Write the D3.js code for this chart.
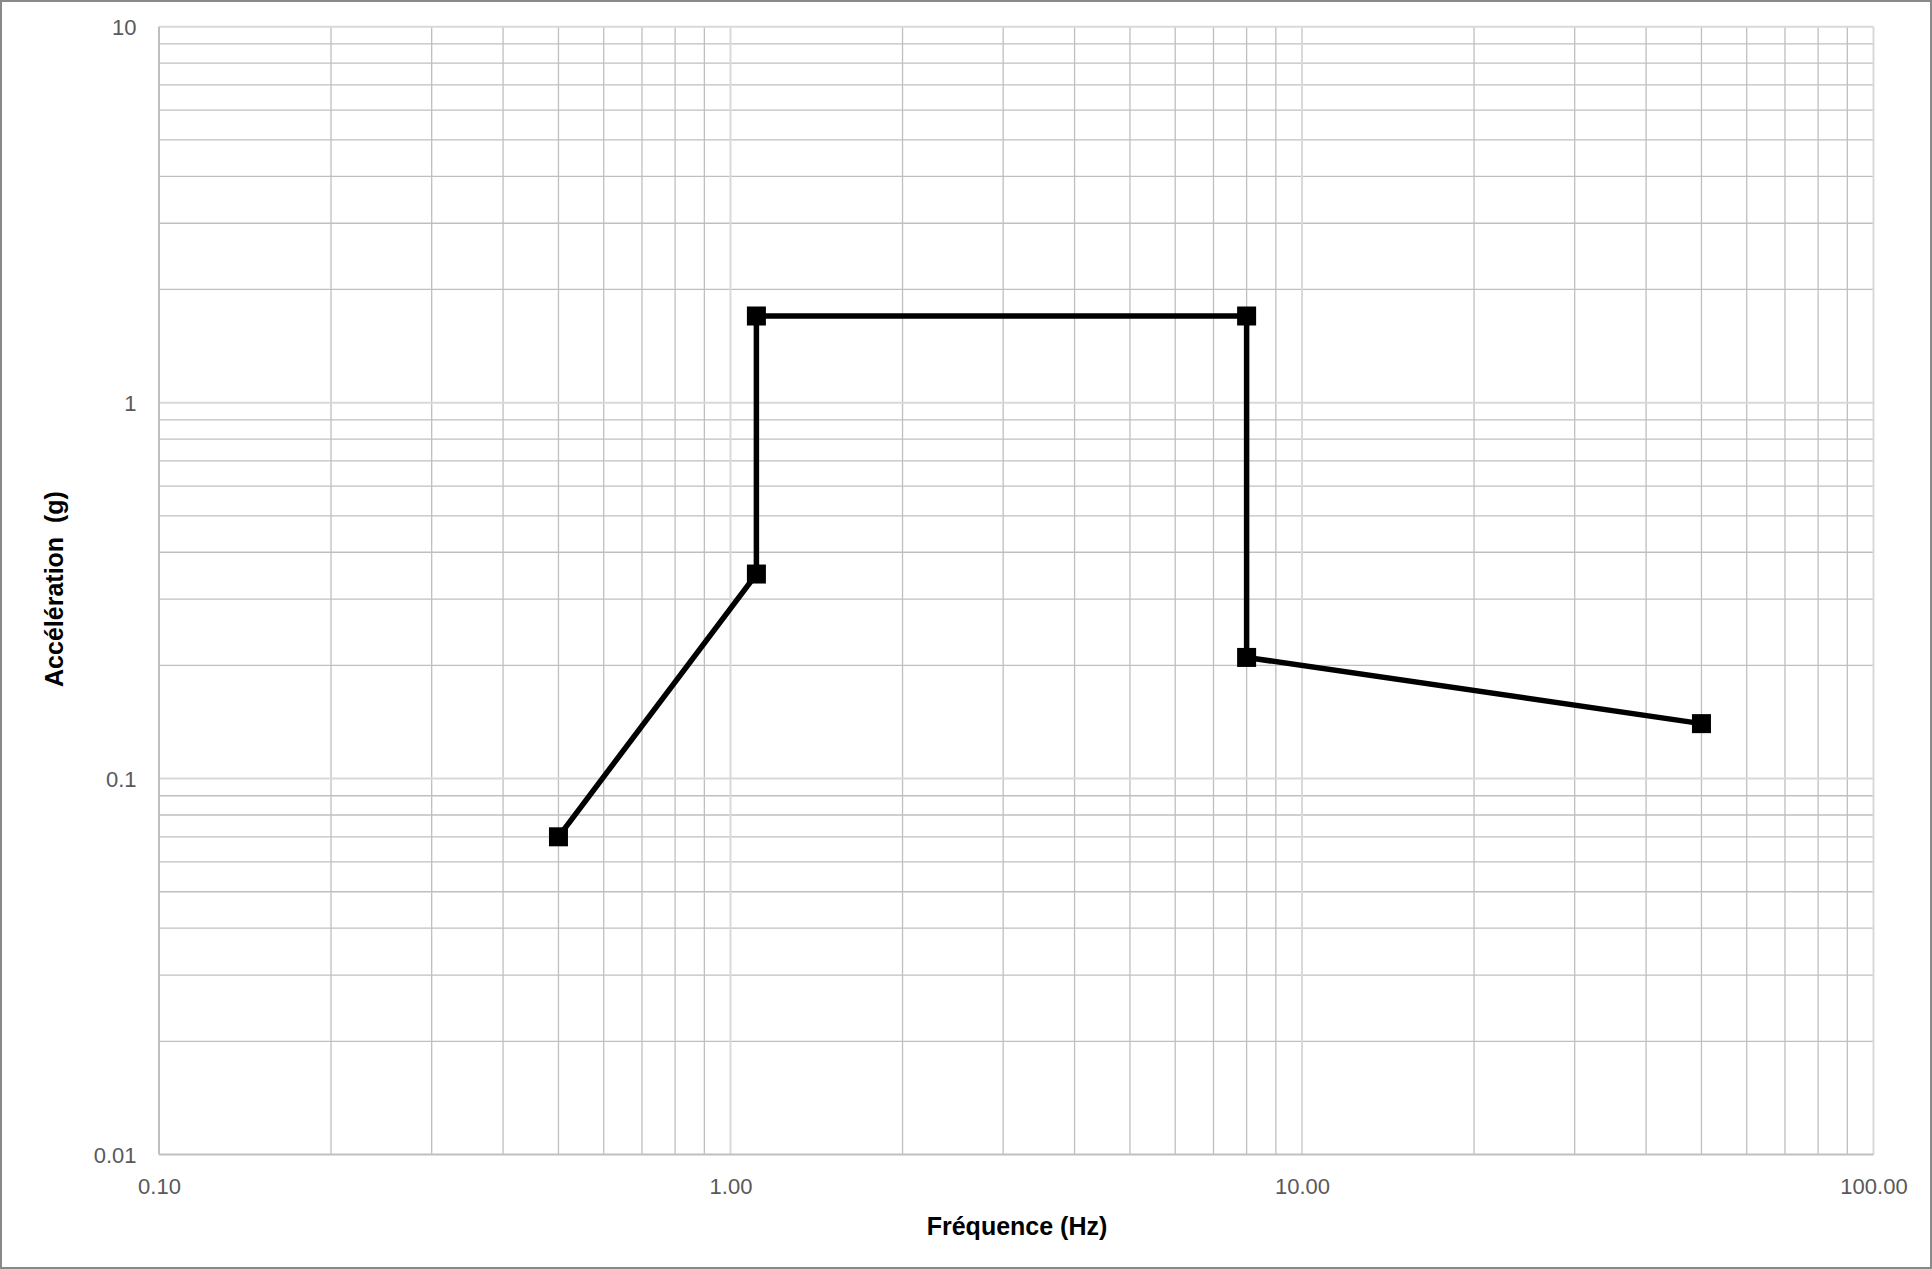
<!DOCTYPE html>
<html>
<head>
<meta charset="utf-8">
<script src="https://cdn.jsdelivr.net/npm/d3@7"></script>
<style>
  body { margin: 0; background: #fff; }
  svg { display: block; }
</style>
</head>
<body>
<div id="chart"></div>
<script>
// values
const freqs = [0.5, 1.11, 1.11, 8, 8, 50]
const accels = [0.07, 0.35, 1.7, 1.7, 0.21, 0.14]
const xTickValues = [0.1, 1, 10, 100]
const yTickValues = [0.01, 0.1, 1, 10]
const xTitle = "Fréquence (Hz)"
const yTitle = "Accélération \u00a0(g)"

const W = 1932, H = 1269
const margin = { top: 26.7, right: 58.5, bottom: 114.5, left: 159 }

const svg = d3.select("#chart").append("svg")
    .attr("width", W)
    .attr("height", H)

// outer chart border
svg.append("rect")
    .attr("x", 1).attr("y", 1)
    .attr("width", W - 2).attr("height", H - 2)
    .attr("fill", "#fff")
    .attr("stroke", "#898989")
    .attr("stroke-width", 2)

const x = d3.scaleLog()
    .domain([0.1, 100])
    .range([margin.left, W - margin.right])

const y = d3.scaleLog()
    .domain([0.01, 10])
    .range([H - margin.bottom, margin.top])

const g = svg.append("g")

// minor grid (2..9 in every decade)
const xMinor = x.ticks().filter(v => !xTickValues.some(t => Math.abs(t - v) < 1e-9))
const yMinor = y.ticks().filter(v => !yTickValues.some(t => Math.abs(t - v) < 1e-9))

g.selectAll(".xminor").data(xMinor).enter().append("line")
    .attr("x1", d => x(d)).attr("x2", d => x(d))
    .attr("y1", y.range()[0]).attr("y2", y.range()[1])
    .attr("stroke", "#bfbfbf").attr("stroke-width", 1.3)

g.selectAll(".yminor").data(yMinor).enter().append("line")
    .attr("y1", d => y(d)).attr("y2", d => y(d))
    .attr("x1", x.range()[0]).attr("x2", x.range()[1])
    .attr("stroke", "#bfbfbf").attr("stroke-width", 1.3)

// major grid (decades), lighter and a bit thicker
g.selectAll(".xmajor").data(xTickValues.slice(1)).enter().append("line")
    .attr("x1", d => x(d)).attr("x2", d => x(d))
    .attr("y1", y.range()[0]).attr("y2", y.range()[1])
    .attr("stroke", "#d9d9d9").attr("stroke-width", 2)

g.selectAll(".ymajor").data(yTickValues.slice(1)).enter().append("line")
    .attr("y1", d => y(d)).attr("y2", d => y(d))
    .attr("x1", x.range()[0]).attr("x2", x.range()[1])
    .attr("stroke", "#d9d9d9").attr("stroke-width", 2)

// axis lines
g.append("line")
    .attr("x1", x.range()[0]).attr("x2", x.range()[0])
    .attr("y1", y.range()[0]).attr("y2", y.range()[1])
    .attr("stroke", "#bfbfbf").attr("stroke-width", 2)
g.append("line")
    .attr("x1", x.range()[0]).attr("x2", x.range()[1])
    .attr("y1", y.range()[0]).attr("y2", y.range()[0])
    .attr("stroke", "#bfbfbf").attr("stroke-width", 2)

// tick labels
const xAxis = svg.append("g")
    .attr("transform", "translate(0," + (y.range()[0] + 39.5) + ")")
    .call(d3.axisBottom(x).tickValues(xTickValues).tickFormat(d3.format(".2f")).tickSize(0))
xAxis.select(".domain").remove()
xAxis.selectAll("text")
    .attr("y", 0).attr("dy", 0)
    .attr("fill", "#595959")
    .style("font-family", "Liberation Sans, Arial, sans-serif")
    .style("font-size", "22px")

const yAxis = svg.append("g")
    .attr("transform", "translate(136.5,0)")
    .call(d3.axisLeft(y).tickValues(yTickValues).tickFormat(d3.format("~g")).tickSize(0))
yAxis.select(".domain").remove()
yAxis.selectAll("text")
    .attr("x", 0).attr("dy", "0.36em")
    .attr("fill", "#595959")
    .style("font-family", "Liberation Sans, Arial, sans-serif")
    .style("font-size", "22px")

// axis titles
svg.append("text")
    .attr("x", 1017).attr("y", 1235)
    .attr("text-anchor", "middle")
    .style("font-family", "Liberation Sans, Arial, sans-serif")
    .style("font-size", "25px")
    .style("font-weight", "bold")
    .text(xTitle)

svg.append("text")
    .attr("transform", "translate(63,589) rotate(-90)")
    .attr("text-anchor", "middle")
    .style("font-family", "Liberation Sans, Arial, sans-serif")
    .style("font-size", "25px")
    .style("font-weight", "bold")
    .text(yTitle)

// series
const pts = freqs.map((f, i) => ({ f: f, a: accels[i] }))

g.append("path")
    .datum(pts)
    .attr("fill", "none")
    .attr("stroke", "#000")
    .attr("stroke-width", 5.5)
    .attr("stroke-linejoin", "round")
    .attr("d", d3.line().x(d => x(d.f)).y(d => y(d.a)))

const ms = 19
g.selectAll(".marker").data(pts).enter().append("rect")
    .attr("x", d => x(d.f) - ms / 2)
    .attr("y", d => y(d.a) - ms / 2)
    .attr("width", ms).attr("height", ms)
    .attr("fill", "#000")
</script>
</body>
</html>
